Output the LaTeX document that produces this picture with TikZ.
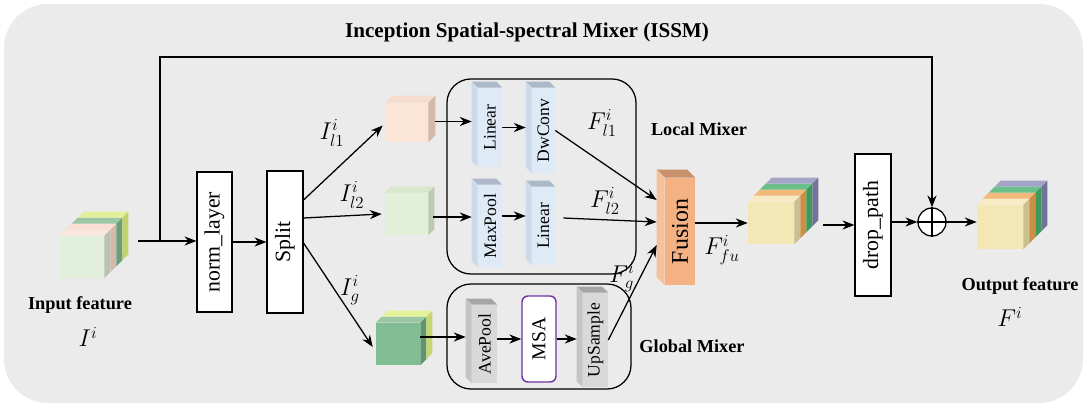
\documentclass[tikz,border=0pt]{standalone}
\usepackage{amsmath}
\usepackage{fontspec}
\setmainfont{Liberation Serif}
\usetikzlibrary{arrows.meta}

\definecolor{bggray}{HTML}{EBEBEB}
\definecolor{blfront}{HTML}{DEEBF7}
\definecolor{bltop}{HTML}{ADB9CA}
\definecolor{blside}{HTML}{CCDAEA}
\definecolor{gyfront}{HTML}{D9D9D9}
\definecolor{gytop}{HTML}{A6A6A6}
\definecolor{gyside}{HTML}{C4C4C4}
\definecolor{fufront}{HTML}{F4B183}
\definecolor{futop}{HTML}{C8916C}
\definecolor{fuside}{HTML}{F6C29E}
\definecolor{msapurple}{HTML}{7030A0}
% input cube
\definecolor{inF}{HTML}{E2EFDA}
\definecolor{inTa}{HTML}{FBE6DC}\definecolor{inSa}{HTML}{B9C4AE}
\definecolor{inTb}{HTML}{F8DED3}\definecolor{inSb}{HTML}{D4B9AF}
\definecolor{inTc}{HTML}{9CC6A6}\definecolor{inSc}{HTML}{6C9E7A}
\definecolor{inTd}{HTML}{E1EE9A}\definecolor{inSd}{HTML}{C2D36D}
% branch cubes
\definecolor{pkF}{HTML}{FBE5D6}\definecolor{pkT}{HTML}{F6DCCC}\definecolor{pkS}{HTML}{D5B8A6}
\definecolor{lgF}{HTML}{E2F0D9}\definecolor{lgT}{HTML}{D8E6CE}\definecolor{lgS}{HTML}{BCCBB0}
\definecolor{dgF}{HTML}{80BD93}\definecolor{dgT}{HTML}{9CC7A4}\definecolor{dgS}{HTML}{5E9570}
\definecolor{ywT}{HTML}{E4F29C}\definecolor{ywS}{HTML}{C6D670}
% output cubes
\definecolor{ouF}{HTML}{F3E7B6}
\definecolor{ouTa}{HTML}{F6EBC3}\definecolor{ouSa}{HTML}{C9BF8F}
\definecolor{ouTb}{HTML}{F2B97A}\definecolor{ouSb}{HTML}{CC8D45}
\definecolor{ouTc}{HTML}{6BBF88}\definecolor{ouSc}{HTML}{3C9A5A}
\definecolor{ouTd}{HTML}{A4A4C7}\definecolor{ouSd}{HTML}{72739A}

% top and side of slab #2 behind the front face of node #1
\newcommand{\slab}[5]{%
  \fill[fill=#4] ([shift={(#2*#3,-#2*#3)}]#1.north west) -- ([shift={(#2*#3+#3,-#2*#3-#3)}]#1.north west)
    -- ([shift={(#2*#3+#3,-#2*#3-#3)}]#1.north east) -- ([shift={(#2*#3,-#2*#3)}]#1.north east) -- cycle;
  \fill[fill=#5] ([shift={(#2*#3,-#2*#3)}]#1.north east) -- ([shift={(#2*#3+#3,-#2*#3-#3)}]#1.north east)
    -- ([shift={(#2*#3+#3,-#2*#3-#3)}]#1.south east) -- ([shift={(#2*#3,-#2*#3)}]#1.south east) -- cycle;
}
% top and left side of an upright block
\newcommand{\barfaces}[4]{%
  \fill[fill=#3] (#1.north west) -- ([shift={(-#2,-#2)}]#1.north west) -- ([shift={(-#2,-#2)}]#1.north east) -- (#1.north east) -- cycle;
  \fill[fill=#4] (#1.north west) -- ([shift={(-#2,-#2)}]#1.north west) -- ([shift={(-#2,-#2)}]#1.south west) -- (#1.south west) -- cycle;
}

\tikzset{
  arr/.style={line width=0.9pt, -{Stealth[length=8.5pt,width=6.5pt]}},
  opbox/.style={draw, line width=0.8pt, fill=white, inner sep=0pt, font=\fontsize{15.5}{18}\selectfont},
  barblock/.style={inner sep=0pt, font=\fontsize{12.5}{14}\selectfont},
  mixbox/.style={draw, line width=0.9pt, rounded corners=0.6cm, inner sep=0pt},
  cubefront/.style={inner sep=0pt},
  lbl/.style={font=\bfseries\fontsize{13}{15}\selectfont},
  mlbl/.style={font=\fontsize{17}{20}\selectfont, inner sep=1pt}
}

\begin{document}
\begin{tikzpicture}[x=0.025cm,y=-0.025cm]
  % Background
  \fill[white] (0,0) rectangle (1087,407);
  \useasboundingbox (0,0) rectangle (1087,407);
  \fill[bggray, rounded corners=1.1cm] (4,4) rectangle (1083,403);
  \node[font=\bfseries\fontsize{15}{17}\selectfont] (title) at (527,32) {Inception Spatial-spectral Mixer (ISSM)};

  % Input cube
  \node[cubefront, fill=inF, minimum width=1.1cm, minimum height=1.05cm] (incube) at (82,257) {};
  \foreach \k/\tc/\sc in {0/inTa/inSa, 1/inTb/inSb, 2/inTc/inSc, 3/inTd/inSd}
    {\slab{incube}{\k}{6}{\tc}{\sc}}
  \node[lbl] (inlbl) at (80,305) {Input feature};
  \node[mlbl] (inmath) at (88,337) {$I^{i}$};

  % norm, split
  \node[opbox, minimum width=0.875cm, minimum height=3.5cm] (norm) at (214.5,242) {\rotatebox{90}{norm\_layer}};
  \node[opbox, minimum width=0.9cm, minimum height=3.55cm] (split) at (285,242) {\rotatebox{90}{Split}};

  % branch cubes
  \node[cubefront, fill=pkF, minimum width=1.05cm, minimum height=0.975cm] (pcube) at (407,122.5) {};
  \slab{pcube}{0}{7}{pkT}{pkS}
  \node[cubefront, fill=lgF, minimum width=1.075cm, minimum height=1.05cm] (gcube) at (406.5,214) {};
  \slab{gcube}{0}{6}{lgT}{lgS}
  \node[cubefront, fill=dgF, minimum width=1.1cm, minimum height=1.05cm] (dgcube) at (398,344) {};
  \slab{dgcube}{0}{6}{dgT}{dgS}
  \slab{dgcube}{1}{6}{ywT}{ywS}

  % Local mixer
  \node[mixbox, minimum width=4.725cm, minimum height=4.875cm] (localmix) at (541.5,176.5) {};
  \node[lbl] (locallbl) at (699,129) {Local Mixer};
  \node[barblock, fill=blfront, minimum width=0.6cm, minimum height=1.975cm] (lin1) at (490,127.5) {\rotatebox{90}{Linear}};
  \barfaces{lin1}{6}{bltop}{blside}
  \node[barblock, fill=blfront, minimum width=0.575cm, minimum height=2.125cm] (dwc) at (543.5,130.5) {\rotatebox{90}{DwConv}};
  \barfaces{dwc}{6}{bltop}{blside}
  \node[barblock, fill=blfront, minimum width=0.6cm, minimum height=2.05cm] (maxp) at (490,226) {\rotatebox{90}{MaxPool}};
  \barfaces{maxp}{6}{bltop}{blside}
  \node[barblock, fill=blfront, minimum width=0.575cm, minimum height=1.95cm] (lin2) at (543.5,226) {\rotatebox{90}{Linear}};
  \barfaces{lin2}{6}{bltop}{blside}

  % Global mixer
  \node[mixbox, minimum width=4.6cm, minimum height=2.625cm] (globalmix) at (539,336.5) {};
  \node[lbl] (globallbl) at (692,346) {Global Mixer};
  \node[barblock, fill=gyfront, minimum width=0.625cm, minimum height=1.95cm] (avep) at (484.5,344) {\rotatebox{90}{AvePool}};
  \barfaces{avep}{6}{gytop}{gyside}
  \node[draw=msapurple, line width=1pt, fill=white, rounded corners=0.15cm, inner sep=0pt,
        minimum width=0.85cm, minimum height=2.15cm, font=\fontsize{14}{16}\selectfont] (msa) at (539,339) {\rotatebox{90}{MSA}};
  \node[barblock, fill=gyfront, minimum width=0.625cm, minimum height=2.35cm] (ups) at (595.5,340) {\rotatebox{90}{UpSample}};
  \barfaces{ups}{6}{gytop}{gyside}

  % Fusion
  \node[barblock, fill=fufront, minimum width=0.75cm, minimum height=2.675cm, font=\fontsize{17}{20}\selectfont] (fusion) at (680,231.5) {\rotatebox{90}{Fusion}};
  \barfaces{fusion}{8}{futop}{fuside}

  % fused cube
  \node[cubefront, fill=ouF, minimum width=1.15cm, minimum height=1.05cm] (midcube) at (771,223) {};
  \foreach \k/\tc/\sc in {0/ouTa/ouSa, 1/ouTb/ouSb, 2/ouTc/ouSc, 3/ouTd/ouSd}
    {\slab{midcube}{\k}{6}{\tc}{\sc}}

  % drop path, add
  \node[opbox, minimum width=0.9cm, minimum height=3.55cm] (drop) at (873,225) {\rotatebox{90}{drop\_path}};
  \node[draw, circle, line width=0.9pt, fill=white, minimum size=0.7cm, inner sep=0pt] (plus) at (932,222) {};
  \draw[line width=0.9pt] (plus.north) -- (plus.south) (plus.west) -- (plus.east);

  % Output cube
  \node[cubefront, fill=ouF, minimum width=1.15cm, minimum height=1.1cm] (outcube) at (1000,227) {};
  \foreach \k/\tc/\sc in {0/ouTa/ouSa, 1/ouTb/ouSb, 2/ouTc/ouSc, 3/ouTd/ouSd}
    {\slab{outcube}{\k}{6}{\tc}{\sc}}
  \node[lbl] (outlbl) at (1020,286) {Output feature};
  \node[mlbl] (outmath) at (1010,317) {$F^{i}$};

  % Arrows
  \coordinate (inout) at (138,241);
  \coordinate (branch) at (160,241);
  \coordinate (skip) at (160,57);
  \draw[arr] (inout) -- (inout -| norm.west);
  \draw[arr] (branch) -- (skip) -- (skip -| plus) -- (plus.north); % shortcut
  \draw[arr] (norm) -- (split);
  \draw[arr] ([shift={(0,-42)}]split.east) -- ([shift={(-3,3)}]pcube.west);
  \draw[arr] ([shift={(0,-24)}]split.east) -- ([shift={(-3,0)}]gcube.west);
  \draw[arr] ([shift={(0,1)}]split.east) -- ([shift={(-3,3)}]dgcube.west);
  \draw[arr] ([shift={(7,-1)}]pcube.east) -- ([shift={(-6,-1)}]pcube.east -| lin1.west);
  \draw[arr] (lin1.east) -- ([shift={(-6,0)}]lin1.east -| dwc.west);
  \draw[arr] (dwc.east) -- ([shift={(-8,-31.5)}]fusion.west);
  \draw[arr] ([shift={(5,3)}]gcube.east) -- ([shift={(-6,3)}]gcube.east -| maxp.west);
  \draw[arr] ([shift={(0,-10)}]maxp.east) -- ([shift={(-6,-10)}]maxp.east -| lin2.west);
  \draw[arr] ([shift={(8,-8)}]lin2.east) -- ([shift={(-8,-9.5)}]fusion.west);
  \draw[arr] ([shift={(0,-7)}]dgcube.east) -- ([shift={(-6,-7)}]dgcube.east -| avep.west);
  \draw[arr] (avep.east |- msa.west) -- (msa.west);
  \draw[arr] (msa.east) -- ([shift={(-6,0)}]msa.east -| ups.west);
  \draw[arr] (ups.east) -- ([shift={(-8,13.5)}]fusion.west);
  \draw[arr] (fusion.east |- midcube.west) -- (midcube.west);
  \draw[arr] ([shift={(29,0)}]midcube.east |- drop.west) -- (drop.west);
  \draw[arr] (drop.east |- plus.west) -- (plus.west);
  \draw[arr] (plus.east) -- (plus.east -| outcube.west);

  % Labels
  \node[mlbl] (il1) at (332,133) {$I_{l1}^{i}$};
  \node[mlbl] (il2) at (352,195) {$I_{l2}^{i}$};
  \node[mlbl] (ig) at (350,290) {$I_{g}^{i}$};
  \node[mlbl] (fl1) at (602,123) {$F_{l1}^{i}$};
  \node[mlbl] (fl2) at (605,201) {$F_{l2}^{i}$};
  \node[mlbl] (fg) at (622,277) {$F_{g}^{i}$};
  \node[mlbl] (ffu) at (722,250) {$F_{fu}^{i}$};
\end{tikzpicture}
\end{document}
